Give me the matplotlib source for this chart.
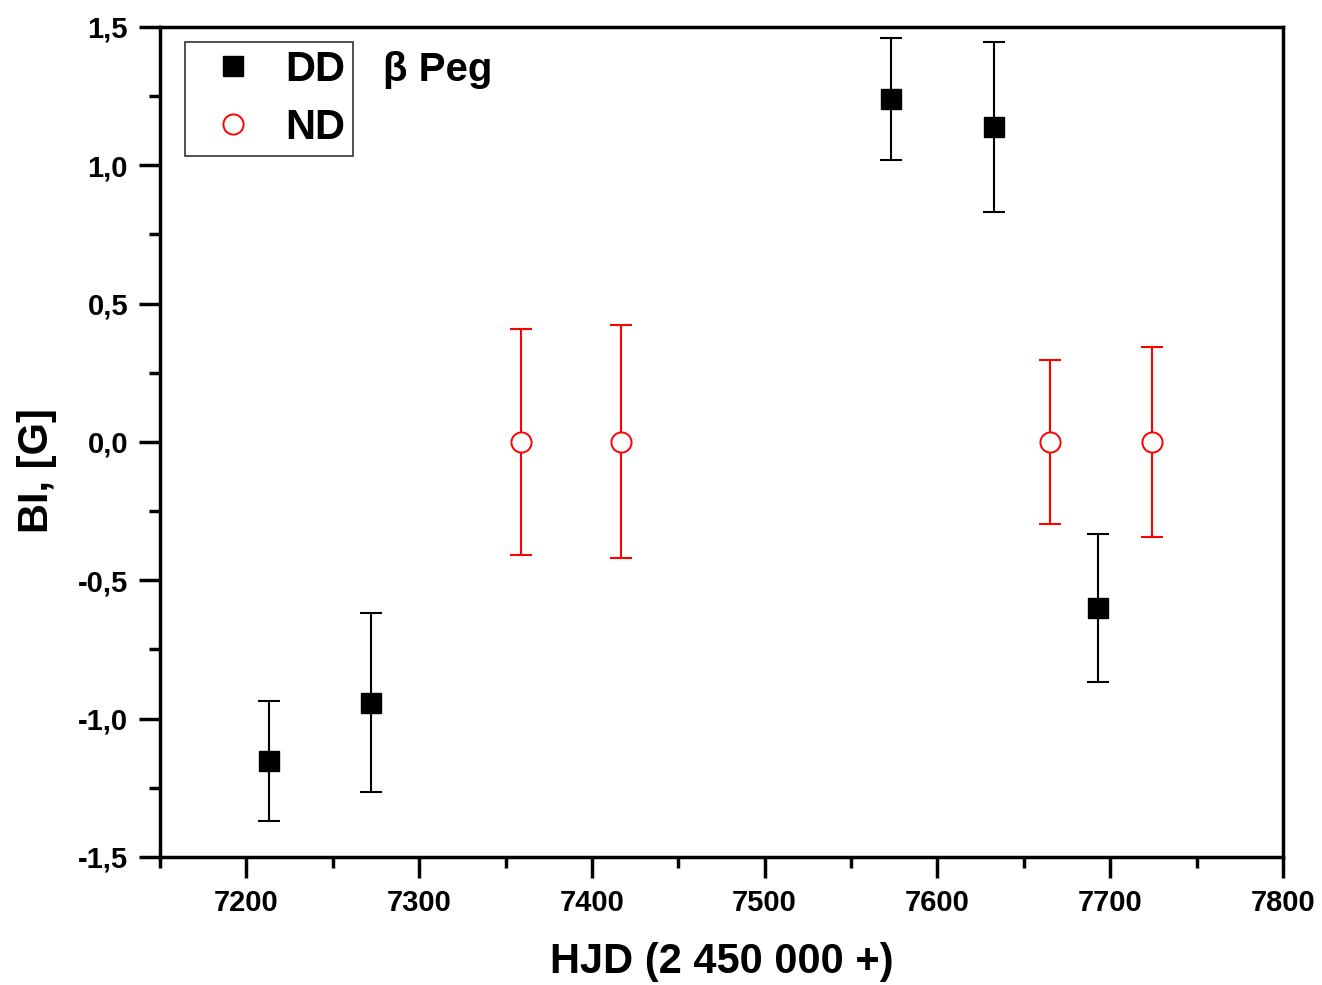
import matplotlib
matplotlib.use("Agg")
import matplotlib.pyplot as plt
from matplotlib.ticker import MultipleLocator, FuncFormatter

# Data
dd_x = [7213, 7272, 7573, 7633, 7693]
dd_y = [-1.153, -0.942, 1.240, 1.138, -0.600]
dd_err = [0.217, 0.322, 0.220, 0.308, 0.268]

nd_x = [7359, 7417, 7665, 7724]
nd_y = [0.0, 0.0, 0.0, 0.0]
nd_err = [0.408, 0.421, 0.298, 0.343]

plt.rcParams['font.family'] = ['Liberation Sans', 'DejaVu Sans']
plt.rcParams['font.weight'] = 'bold'

fig = plt.figure(figsize=(13.22, 9.85), dpi=100)
ax = fig.add_axes([0.121, 0.130, 0.8495, 0.8426])

ax.errorbar(dd_x, dd_y, yerr=dd_err, fmt='none', ecolor='black', elinewidth=1.5,
            capsize=8, capthick=1.5, zorder=2)
ax.errorbar(nd_x, nd_y, yerr=nd_err, fmt='none', ecolor='red', elinewidth=1.5,
            capsize=8, capthick=1.5, zorder=2)
ax.plot(dd_x, dd_y, 's', ms=14, mfc='black', mec='black', label='DD', zorder=3)
ax.plot(nd_x, nd_y, 'o', ms=14.5, mfc='white', mec='red', mew=1.4, label='ND', zorder=3)

ax.set_xlim(7150, 7800)
ax.set_ylim(-1.5, 1.5)
ax.xaxis.set_major_locator(MultipleLocator(100))
ax.xaxis.set_minor_locator(MultipleLocator(50))
ax.yaxis.set_major_locator(MultipleLocator(0.5))
ax.yaxis.set_minor_locator(MultipleLocator(0.25))
ax.yaxis.set_major_formatter(FuncFormatter(lambda v, p: f"{v:.1f}".replace('.', ',')))

ax.tick_params(which='major', direction='out', length=15, width=2.5, labelsize=21,
               top=False, right=False, pad=8)
ax.tick_params(which='minor', direction='out', length=8, width=2.5,
               top=False, right=False)
for s in ax.spines.values():
    s.set_linewidth(2.5)

ax.set_xlabel('HJD (2 450 000 +)', fontsize=30, fontweight='bold', labelpad=18)
ax.set_ylabel('BI, [G]', fontsize=30, fontweight='bold')
ax.yaxis.set_label_coords(-0.092, 0.466)

leg = ax.legend(loc='upper left', bbox_to_anchor=(0.0223, 0.982), borderaxespad=0,
                fontsize=30, frameon=True, fancybox=False, edgecolor='black',
                markerfirst=True, handletextpad=0.29, borderpad=0.19,
                labelspacing=0.43, handlelength=1.92)
leg.get_frame().set_linewidth(1.2)
for h in leg.legend_handles:
    h.set_markersize(14.5)
for t in leg.get_texts():
    t.set_fontweight('bold')

ax.text(0.199, 0.948, 'β Peg', transform=ax.transAxes, fontsize=29,
        fontweight='bold', va='center', ha='left')

fig.savefig('out.png', dpi=100)
